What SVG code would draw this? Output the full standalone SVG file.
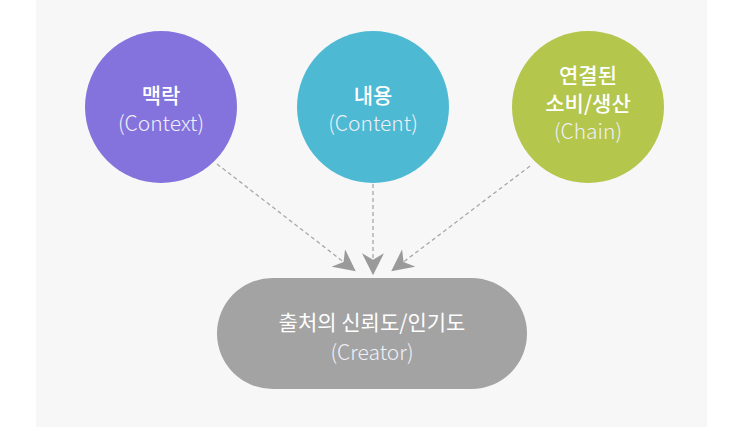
<svg xmlns="http://www.w3.org/2000/svg" width="743" height="431" viewBox="0 0 743 431">
<style>
.t{font-family:"Noto Sans CJK KR","Noto Sans",sans-serif;fill:#fff;text-anchor:middle;font-size:21px}
.b{font-weight:500}
.l{font-weight:300;fill:#f0f0f8}
.c{fill:none;stroke:#a8a8a8;stroke-width:1.3;stroke-dasharray:4 3}
</style>
<defs>
<marker id="ah" viewBox="0 0 20 20" refX="18" refY="10" markerWidth="22" markerHeight="22" markerUnits="userSpaceOnUse" orient="auto">
<path d="M0,0 L20,10 L0,20 L6,10 Z" fill="#9a9a9a"/>
</marker>
</defs>
<rect width="743" height="431" fill="#fff"/>
<rect x="36" y="0" width="671" height="427" fill="#f7f7f7"/>
<g id="connectors">
<line class="c" x1="217" y1="164" x2="354" y2="270" marker-end="url(#ah)"/>
<line class="c" x1="373" y1="184" x2="373" y2="273" marker-end="url(#ah)"/>
<line class="c" x1="530" y1="166" x2="393" y2="270" marker-end="url(#ah)"/>
</g>
<g id="context">
<circle cx="161" cy="107" r="76" fill="#8473dc"/>
<text class="t b" x="161" y="103">맥락</text>
<text class="t l" x="161" y="131">(Context)</text>
</g>
<g id="content">
<circle cx="373" cy="107" r="76" fill="#4eb9d3"/>
<text class="t b" x="373" y="103">내용</text>
<text class="t l" x="373" y="131">(Content)</text>
</g>
<g id="chain">
<circle cx="588" cy="107" r="76" fill="#b4c64c"/>
<text class="t b" x="588" y="83">연결된</text>
<text class="t b" x="588" y="111">소비/생산</text>
<text class="t l" x="588" y="139">(Chain)</text>
</g>
<g id="creator">
<rect x="217" y="278" width="310" height="111" rx="55.5" fill="#a3a3a3"/>
<text class="t" x="372" y="330" style="font-weight:400">출처의 신뢰도/인기도</text>
<text class="t l" x="372" y="360">(Creator)</text>
</g>
</svg>
